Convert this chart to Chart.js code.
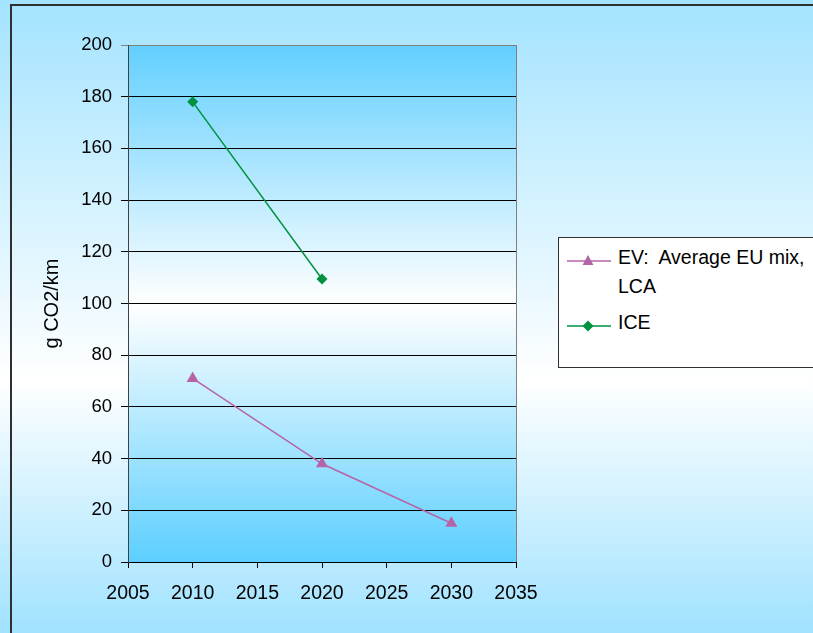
<!DOCTYPE html>
<html>
<head>
<meta charset="utf-8">
<script src="https://cdn.jsdelivr.net/npm/chart.js@4"></script>
<style>
  html, body { margin: 0; padding: 0; width: 813px; height: 633px; overflow: hidden; }
  #wrap { position: relative; width: 813px; height: 633px; }
  canvas { display: block; }
  #legend {
    position: absolute; left: 558px; top: 237px; width: 260px; height: 131px;
    background: #ffffff; border: 1px solid #303030; box-sizing: border-box;
    font-family: "Liberation Sans", Arial, sans-serif; font-size: 19.5px; color: #000;
  }
  .item { position: absolute; left: 8px; display: flex; align-items: flex-start; }
  .item svg { flex: none; margin-top: 3px; }
  .item span { margin-left: 7px; line-height: 29px; margin-top: -8px; }
</style>
</head>
<body>
<div id="wrap">
  <canvas id="c" width="813" height="633"></canvas>
  <div id="legend"></div>
</div>
<script>
const years = [2010, 2020, 2030];
const evValues = [71, 38, 15];
const iceValues = [178, 109.5, null];
const seriesNames = ["EV: Average EU mix, LCA", "ICE"];
const xTicks = [2005, 2010, 2015, 2020, 2025, 2030, 2035];
const yTicks = [0, 20, 40, 60, 80, 100, 120, 140, 160, 180, 200];
const yTitle = "g CO2/km";

const evColor = "#B565A7";
const iceColor = "#00923F";

const bgPlugin = {
  id: "bg",
  beforeDraw(chart) {
    const ctx = chart.ctx, W = chart.width, H = chart.height, a = chart.chartArea;
    ctx.save();
    let g = ctx.createLinearGradient(0, 0, 0, H);
    g.addColorStop(0, "#A3E3FF");
    g.addColorStop(0.6, "#FFFFFF");
    g.addColorStop(1, "#A0E2FF");
    ctx.fillStyle = g;
    ctx.fillRect(0, 0, W, H);
    ctx.strokeStyle = "#303030";
    ctx.lineWidth = 2;
    ctx.strokeRect(11, 5, W + 20, H + 20);
    let g2 = ctx.createLinearGradient(0, a.top, 0, a.bottom);
    g2.addColorStop(0, "#62CFFF");
    g2.addColorStop(0.5, "#FFFFFF");
    g2.addColorStop(1, "#5CCFFF");
    ctx.fillStyle = g2;
    ctx.fillRect(a.left, a.top, a.right - a.left, a.bottom - a.top);
    ctx.restore();
  },
  beforeDatasetsDraw(chart) {
    const ctx = chart.ctx, a = chart.chartArea;
    ctx.save();
    ctx.strokeStyle = "#808080";
    ctx.lineWidth = 1;
    ctx.beginPath();
    ctx.moveTo(a.right + 0.5, a.top);
    ctx.lineTo(a.right + 0.5, a.bottom);
    ctx.stroke();
    ctx.restore();
  }
};

new Chart(document.getElementById("c"), {
  type: "line",
  data: {
    datasets: [
      {
        label: seriesNames[0],
        data: years.map((x, i) => ({ x, y: evValues[i] })),
        borderColor: evColor, backgroundColor: evColor,
        borderWidth: 1.5, pointStyle: "triangle", pointRadius: 7,
        pointBorderWidth: 0, tension: 0
      },
      {
        label: seriesNames[1],
        data: years.map((x, i) => ({ x, y: iceValues[i] })).filter(p => p.y !== null),
        borderColor: iceColor, backgroundColor: iceColor,
        borderWidth: 1.5, pointStyle: "rectRot", pointRadius: 5.5,
        pointBorderWidth: 0, tension: 0
      }
    ]
  },
  options: {
    responsive: false, animation: false,
    layout: { padding: { left: 10, right: 297, top: 45, bottom: 0 } },
    plugins: { legend: { display: false }, tooltip: { enabled: false } },
    scales: {
      x: {
        type: "linear", min: xTicks[0], max: xTicks[xTicks.length - 1],
        afterBuildTicks: s => { s.ticks = xTicks.map(v => ({ value: v })); },
        afterFit: s => { s.height = 71; },
        grid: { drawOnChartArea: false, drawTicks: true, tickLength: 6, color: "#000" },
        border: { color: "#000", width: 1 },
        ticks: {
          color: "#000", padding: 14, maxRotation: 0,
          font: { family: "'Liberation Sans', Arial, sans-serif", size: 19.5 },
          callback: v => String(v)
        }
      },
      y: {
        min: yTicks[0], max: yTicks[yTicks.length - 1],
        afterBuildTicks: s => { s.ticks = yTicks.map(v => ({ value: v })); },
        afterFit: s => { s.width = 118; },
        grid: {
          drawOnChartArea: true, drawTicks: true, tickLength: 7,
          color: c => (c.tick && c.tick.value === 200) ? "#808080" : "#000"
        },
        border: { color: "#404040", width: 1 },
        ticks: {
          color: "#000", padding: 9,
          font: { family: "'Liberation Sans', Arial, sans-serif", size: 18.5 },
          callback: v => String(v)
        },
        title: {
          display: true, text: yTitle, color: "#000", padding: { top: 30, bottom: 0 },
          font: { family: "'Liberation Sans', Arial, sans-serif", size: 20 }
        }
      }
    }
  },
  plugins: [bgPlugin]
});

// HTML legend
const legend = document.getElementById("legend");
const items = [
  { name: seriesNames[0], color: evColor, shape: "tri", top: 13 },
  { name: seriesNames[1], color: iceColor, shape: "dia", top: 78 }
];
items.forEach(it => {
  const d = document.createElement("div");
  d.className = "item";
  d.style.top = it.top + "px";
  const marker = it.shape === "tri"
    ? `<polygon points="21,1 26.5,11 15.5,11" fill="${it.color}"/>`
    : `<polygon points="21,1.5 26.5,7 21,12.5 15.5,7" fill="${it.color}"/>`;
  d.innerHTML = `<svg width="44" height="14"><line x1="0" y1="7" x2="44" y2="7" stroke="${it.color}" stroke-width="1.5"/>${marker}</svg>`;
  const s = document.createElement("span");
  s.innerHTML = it.name === seriesNames[0] ? "EV:&nbsp; Average EU mix,<br>LCA" : it.name;
  d.appendChild(s);
  legend.appendChild(d);
});
</script>
</body>
</html>
